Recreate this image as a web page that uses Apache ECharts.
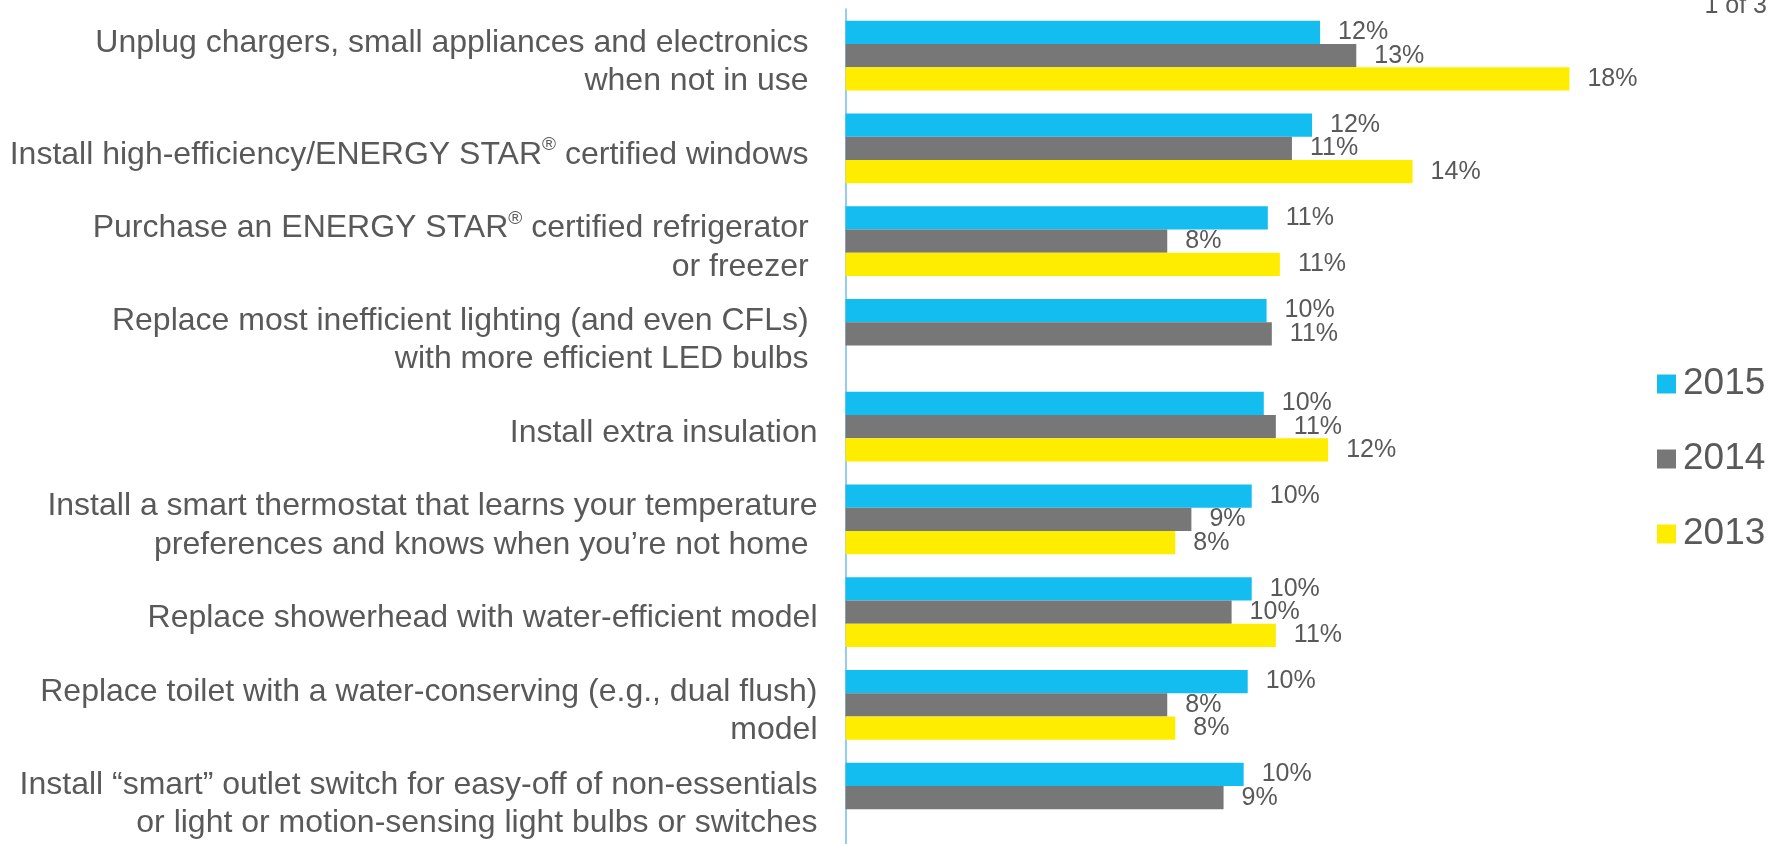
<!DOCTYPE html>
<html>
<head>
<meta charset="utf-8">
<script src="https://cdn.jsdelivr.net/npm/echarts@6/dist/echarts.min.js"></script>
<style>
  html, body { margin: 0; padding: 0; background: #fff; }
  #chart { width: 1785px; height: 844px; }
</style>
</head>
<body>
<div id="chart"></div>
<script>
const categories = [
  'Unplug chargers, small appliances and electronics \nwhen not in use ',
  'Install high-efficiency/ENERGY STAR® certified windows ',
  'Purchase an ENERGY STAR® certified refrigerator \nor freezer ',
  'Replace most inefficient lighting (and even CFLs) \nwith more efficient LED bulbs ',
  'Install extra insulation',
  'Install a smart thermostat that learns your temperature\npreferences and knows when you’re not home ',
  'Replace showerhead with water-efficient model',
  'Replace toilet with a water-conserving (e.g., dual flush)\nmodel',
  'Install “smart” outlet switch for easy-off of non-essentials\nor light or motion-sensing light bulbs or switches'
]
const years = ['2015', '2014', '2013']
const values2015 = [11.8, 11.6, 10.5, 10.47, 10.4, 10.1, 10.1, 10.0, 9.9]
const values2014 = [12.7, 11.1, 8.0, 10.6, 10.7, 8.6, 9.6, 8.0, 9.4]
const values2013 = [18.0, 14.1, 10.8, null, 12.0, 8.2, 10.7, 8.2, null]
const colors = ['#13bdf0', '#777777', '#ffed00']

const textColor = '#595959'
const fontFamily = '"Liberation Sans", Arial, sans-serif'

const chart = echarts.init(document.getElementById('chart'))

const makeSeries = (name, data, color) => ({
  name: name,
  type: 'bar',
  data: data,
  barWidth: 23.3,
  barGap: '0%',
  itemStyle: { color: color },
  label: {
    show: true,
    position: 'right',
    distance: 18,
    fontSize: 25,
    fontFamily: fontFamily,
    color: textColor,
    formatter: p => Math.round(p.value) + '%'
  }
})

chart.setOption({
  animation: false,
  textStyle: { fontFamily: fontFamily },
  grid: { left: 845.5, top: 9.3, width: 804.4, height: 839.5 },
  legend: {
    data: years,
    orient: 'vertical',
    left: 1657,
    top: 364,
    padding: 0,
    itemWidth: 19,
    itemHeight: 19,
    itemGap: 35,
    icon: 'rect',
    textStyle: { fontSize: 37, lineHeight: 40, color: textColor, padding: [0, 0, 0, 2] }
  },
  xAxis: { type: 'value', min: 0, max: 20, show: false },
  yAxis: {
    type: 'category',
    inverse: true,
    data: categories,
    axisLine: { lineStyle: { color: '#93cdf0', width: 2 } },
    axisTick: { length: 9, lineStyle: { color: '#93cdf0', width: 2 } },
    axisLabel: {
      margin: 28,
      fontSize: 32,
      lineHeight: 38.5,
      padding: [13, 0, 0, 0],
      color: textColor,
      align: 'right',
      formatter: v => v.replace(/®/g, '{sup|®}'),
      rich: {
        sup: { fontSize: 19, lineHeight: 19, verticalAlign: 'top', color: textColor }
      }
    }
  },
  graphic: [{
    type: 'text',
    right: 18,
    top: -6,
    style: { text: '1 of 3', fontSize: 25, fontFamily: fontFamily, fill: textColor }
  }],
  series: [
    makeSeries(years[0], values2015, colors[0]),
    makeSeries(years[1], values2014, colors[1]),
    makeSeries(years[2], values2013, colors[2])
  ]
})
</script>
</body>
</html>
